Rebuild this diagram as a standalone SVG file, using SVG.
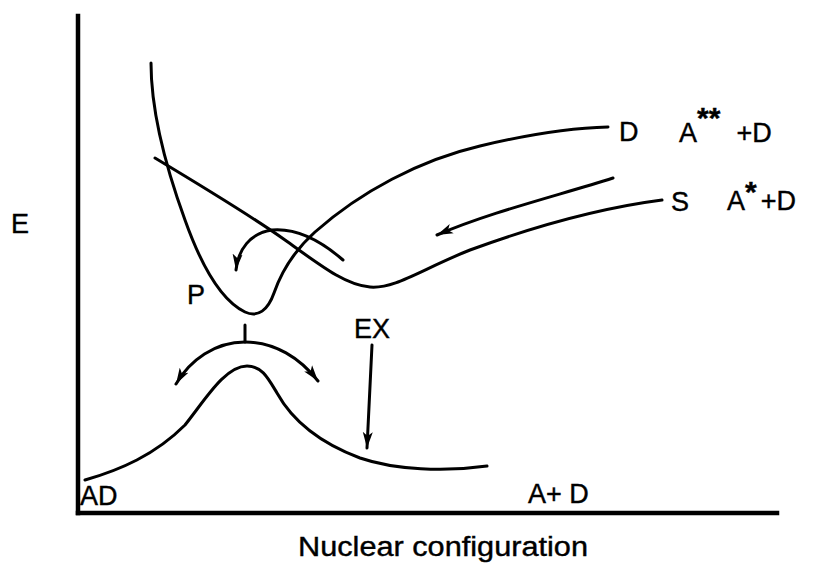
<svg xmlns="http://www.w3.org/2000/svg" width="824" height="567" viewBox="0 0 824 567">
<style>
.c{fill:none;stroke:#000;stroke-width:3;stroke-linecap:round;stroke-linejoin:round}
.ax{fill:none;stroke:#000;stroke-width:4.5;stroke-linecap:square}
.t{font-family:"Liberation Sans",Arial,sans-serif;font-size:27px;fill:#000;stroke:#000;stroke-width:0.4}
.sup{font-size:30px;font-weight:bold}
</style>
<defs>
<marker id="ah" markerUnits="userSpaceOnUse" markerWidth="18" markerHeight="12" refX="16" refY="6" orient="auto-start-reverse" viewBox="0 0 18 12">
<path d="M0,1 L16,6 L0,11 L4,6 Z" fill="#000"/>
</marker>
</defs>
<rect width="824" height="567" fill="#fff"/>
<g id="axes">
<line class="ax" x1="78" y1="16" x2="78" y2="513"/>
<line class="ax" x1="78" y1="513" x2="777" y2="513"/>
</g>
<g id="curve-D">
<path class="c" d="M151,63 C151,110 165,165 185,220 C200,262 220,300 245,312 C258,318 268,310 274,293 C282,270 295,250 315,232 C360,192 420,160 480,146 C530,134 570,128 608,127"/>
</g>
<g id="curve-S">
<path class="c" d="M155,158 C200,185 250,215 285,240 C320,265 345,285 370,287 C395,289 420,270 470,250 C530,228 600,208 662,200"/>
</g>
<g id="curve-ground">
<path class="c" d="M85,480 C120,470 155,455 185,425 C205,400 225,366 247,366 C262,366 268,378 277,393 C292,420 320,443 360,458 C395,470 445,472 487,466"/>
</g>
<g id="connectors">
<path class="c" d="M343,260 C320,240 295,228 272,230 C250,233 238,250 236,270" marker-end="url(#ah)"/>
<path class="c" d="M613,178 C560,195 490,212 437,235" marker-end="url(#ah)"/>
<path class="c" d="M176,384 C190,360 215,342 245,342 C275,342 300,358 318,381" marker-start="url(#ah)" marker-end="url(#ah)"/>
<line class="c" x1="245" y1="325" x2="245" y2="342"/>
<path class="c" d="M372,345 L367,448" marker-end="url(#ah)"/>
</g>
<g id="labels">
<text class="t" x="11" y="233">E</text>
<text class="t" x="187" y="304" font-size="25">P</text>
<text class="t" x="354" y="338">EX</text>
<text class="t" x="80" y="505">AD</text>
<text class="t" x="528" y="503">A+ D</text>
<text class="t" x="619" y="141">D</text>
<text class="t" x="679" y="142">A<tspan class="sup" dy="-14">**</tspan><tspan dy="14" dx="16">+D</tspan></text>
<text class="t" x="671" y="211">S</text>
<text class="t" x="727" y="210">A<tspan class="sup" dy="-8">*</tspan><tspan dy="8" dx="4">+D</tspan></text>
<text class="t" x="298" y="556" textLength="290" lengthAdjust="spacingAndGlyphs">Nuclear configuration</text>
</g>
</svg>
